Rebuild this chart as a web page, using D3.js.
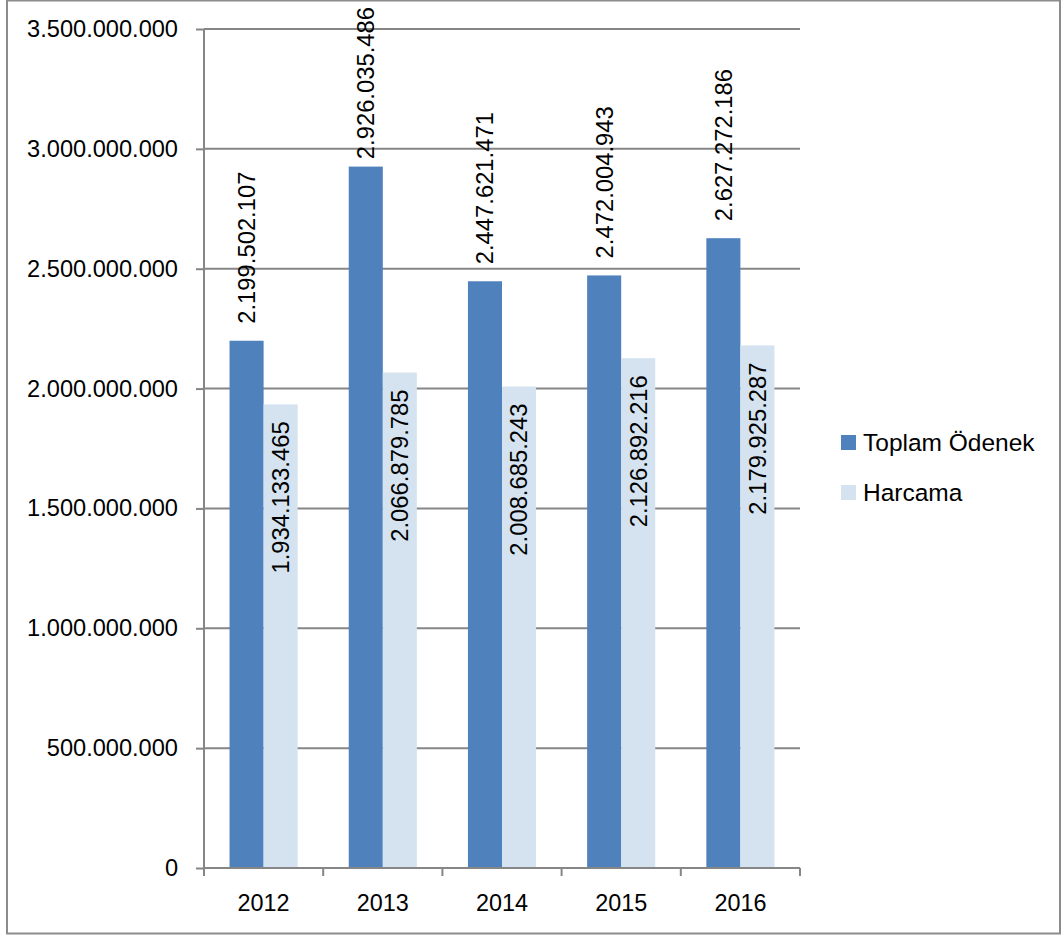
<!DOCTYPE html>
<html>
<head>
<meta charset="utf-8">
<script src="https://cdn.jsdelivr.net/npm/d3@7"></script>
<style>
  body { margin: 0; background: #fff; }
  svg text { font-family: "Liberation Sans", Arial, sans-serif; fill: #000; }
</style>
</head>
<body>
<svg width="1064" height="936"></svg>
<script>
const years = ["2012", "2013", "2014", "2015", "2016"];
const toplamOdenek = [2199502107, 2926035486, 2447621471, 2472004943, 2627272186];
const harcama = [1934133465, 2066879785, 2008685243, 2126892216, 2179925287];
const seriesNames = ["Toplam Ödenek", "Harcama"];
const yTicks = [0, 500000000, 1000000000, 1500000000, 2000000000, 2500000000, 3000000000, 3500000000];

const colors = ["#4f81bd", "#d4e3ef"];
const gridColor = "#868686";

const svg = d3.select("svg");

// Turkish style number format: dots as thousands separator
const trLocale = d3.formatLocale({ decimal: ",", thousands: ".", grouping: [3], currency: ["", " TL"] });
const fmt = trLocale.format(",d");

const margin = { left: 204, right: 800, top: 29, bottom: 868 };

const x = d3.scaleBand().domain(years).range([margin.left, margin.right]);
const y = d3.scaleLinear().domain([0, 3500000000]).range([margin.bottom, margin.top]);

// bar layout: gap width 150% (2 bars + 1.5 bar widths per category)
const barW = x.bandwidth() / 3.5;
const groupOffset = barW * 0.75;

// outer chart border
svg.append("rect")
    .attr("x", 7).attr("y", 0.5)
    .attr("width", 1053).attr("height", 933)
    .attr("fill", "none")
    .attr("stroke", "#8c8c8c")
    .attr("stroke-width", 2);

// gridlines
svg.append("g")
    .selectAll("line")
    .data(yTicks.filter(d => d > 0))
    .join("line")
    .attr("x1", margin.left).attr("x2", margin.right)
    .attr("y1", d => y(d)).attr("y2", d => y(d))
    .attr("stroke", gridColor)
    .attr("stroke-width", 2);

// bars
const data = years.map((yr, i) => ({ year: yr, values: [toplamOdenek[i], harcama[i]] }));

const groups = svg.append("g")
    .selectAll("g")
    .data(data)
    .join("g")
    .attr("transform", d => `translate(${x(d.year) + groupOffset},0)`);

groups.selectAll("rect")
    .data(d => d.values.map((v, k) => ({ v, k })))
    .join("rect")
    .attr("x", d => d.k * barW)
    .attr("width", barW)
    .attr("y", d => y(d.v))
    .attr("height", d => y(0) - y(d.v))
    .attr("fill", d => colors[d.k]);

// data labels, rotated; outside labels are pushed down if they would leave the chart
const topLimit = 7;
groups.selectAll("text")
    .data(d => d.values.map((v, k) => ({ v, k })))
    .join("text")
    .attr("dy", "0.35em")
    .attr("text-anchor", d => d.k === 0 ? "start" : "end")
    .style("font-size", "23.8px")
    .text(d => fmt(d.v))
    .attr("transform", function (d) {
        const cx = d.k * barW + barW / 2;
        let yy = d.k === 0 ? y(d.v) - 17 : y(d.v) + 17;
        if (d.k === 0) {
            const len = this.getComputedTextLength();
            if (yy - len < topLimit) yy = topLimit + len;
        }
        return `translate(${cx},${yy}) rotate(-90)`;
    });

// y axis
const yAxis = d3.axisLeft(y)
    .tickValues(yTicks)
    .tickSize(8)
    .tickPadding(18)
    .tickFormat(d => fmt(d));

const yg = svg.append("g")
    .attr("transform", `translate(${margin.left},0)`)
    .call(yAxis);
yg.selectAll("line").attr("stroke", gridColor).attr("stroke-width", 2);
yg.select(".domain").attr("stroke", gridColor).attr("stroke-width", 2).attr("d", `M0,${margin.top}V${margin.bottom}`);
yg.selectAll("text").style("font-size", "23.6px").attr("font-family", null);

// x axis
const xg = svg.append("g")
    .attr("transform", `translate(0,${margin.bottom})`)
    .call(d3.axisBottom(x).tickSize(0).tickPadding(26));
xg.select(".domain").attr("stroke", gridColor).attr("stroke-width", 2).attr("d", `M${margin.left},0H${margin.right}`);
xg.selectAll("text").style("font-size", "23.4px").attr("font-family", null);

// category boundary ticks
const boundaries = years.map(d => x(d)).concat([x(years[years.length - 1]) + x.bandwidth()]);
xg.selectAll(".bound")
    .data(boundaries)
    .join("line")
    .attr("class", "bound")
    .attr("x1", d => d).attr("x2", d => d)
    .attr("y1", 0).attr("y2", 8)
    .attr("stroke", gridColor)
    .attr("stroke-width", 2);

// legend
const legend = svg.append("g")
    .attr("transform", "translate(841,435)");

const items = legend.selectAll("g")
    .data(seriesNames)
    .join("g")
    .attr("transform", (d, i) => `translate(0,${i * 50})`);

items.append("rect")
    .attr("width", 15).attr("height", 15)
    .attr("fill", (d, i) => colors[i]);

items.append("text")
    .attr("x", 22).attr("y", 7.5)
    .attr("dy", "0.36em")
    .style("font-size", "24.5px")
    .text(d => d);
</script>
</body>
</html>
